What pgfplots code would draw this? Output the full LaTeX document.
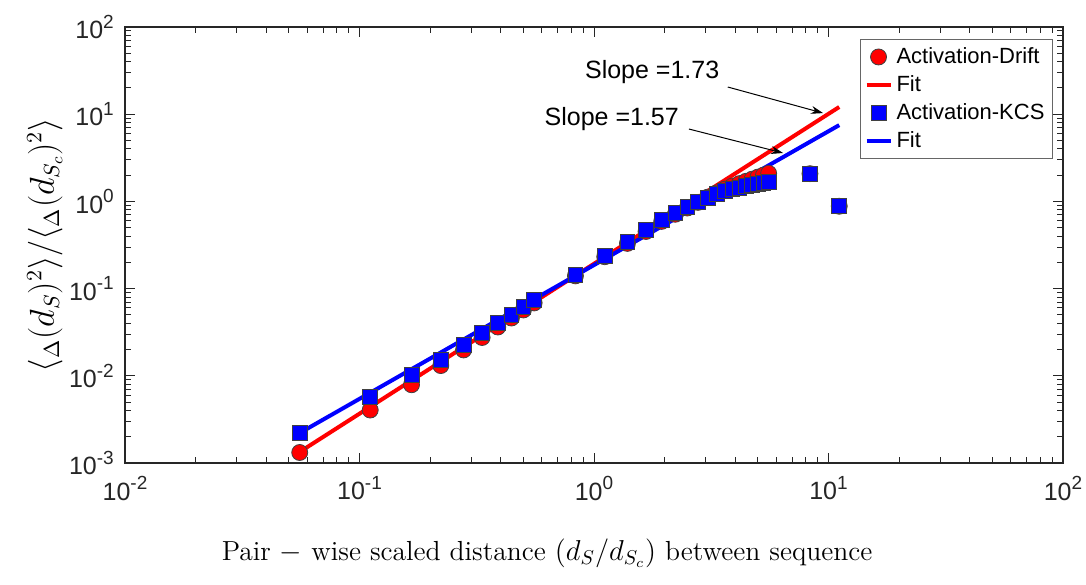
\documentclass[border=0pt]{standalone}
\usepackage{pgfplots}
\pgfplotsset{compat=1.18}
\usepackage{fontspec}
\usetikzlibrary{arrows.meta}
\newfontfamily\arial{Liberation Sans}
\definecolor{axgray}{rgb}{0.15,0.15,0.15}
\begin{document}
\begin{tikzpicture}
\useasboundingbox (-62.5pt,-60.5pt) rectangle (480.5pt,231.5pt);
\begin{axis}[
  at={(0,0)}, anchor=south west,
  scale only axis, width=469pt, height=218pt,
  xmode=log, ymode=log,
  xmin=0.01, xmax=100, ymin=0.001, ymax=100,
  log number format basis/.code 2 args={#1\raisebox{0.42em}{\fontsize{9.5}{10}\selectfont\pgfmathprintnumber[assume math mode=true]{#2}}},
  tick align=inside, major tick length=5pt, minor tick length=3pt,
  axis line style={axgray}, tick style={axgray, line width=0.5pt},
  every axis/.append style={line width=0.6pt},
  ticklabel style={font=\arial\fontsize{12.5}{14}\selectfont, text=axgray},
  xticklabel style={yshift=-3pt},
  yticklabel style={xshift=-2pt},
  xlabel={Pair $-$ wise scaled distance $\left(d_S/d_{S_c}\right)$ between sequence},
  xlabel style={at={(axis description cs:0.45,-0.2225)}, anchor=base, font=\fontsize{13.8}{16}\selectfont},
  ylabel={$\langle{}_{\Delta}(d_S)^{2}\rangle/\langle{}_{\Delta}(d_{S_c})^{2}\rangle$},
  ylabel style={at={(axis description cs:-0.0853,0.5)}, anchor=center, font=\fontsize{16}{18}\selectfont},
  legend style={at={(0.9893,0.9725)}, anchor=north east, draw=black!60, line width=0.5pt,
    font=\arial\fontsize{11}{13}\selectfont, row sep=0.5pt, inner sep=2pt},
  legend cell align=left,
  legend image code/.code={\draw[mark repeat=2,mark phase=2,#1] plot coordinates {(0pt,0pt) (6pt,0pt) (12pt,0pt)};},
]
\addplot[only marks, mark=*, mark size=4pt, mark options={fill=red, draw=black!75, line width=0.4pt}] coordinates {
(0.0556,0.00132) (0.1111,0.00405) (0.1667,0.00790) (0.2222,0.0131) (0.2778,0.0198)
(0.3333,0.0275) (0.3889,0.0363) (0.4444,0.0460) (0.5,0.0569) (0.5556,0.0685)
(0.8333,0.140) (1.1111,0.232) (1.3889,0.330) (1.6667,0.452) (1.9444,0.590)
(2.2222,0.712) (2.5,0.840) (2.7778,0.975) (3.0556,1.12) (3.3333,1.25)
(3.6111,1.38) (3.8889,1.50) (4.1667,1.60) (4.4444,1.70) (4.7222,1.80)
(5.0,1.90) (5.2778,2.00) (5.5556,2.10) (8.3333,2.08) (11.111,0.88)
};
\addlegendentry{Activation-Drift}
\addplot[red, line width=2pt] coordinates {(0.0556,0.00134) (11.111,12.1)};
\addlegendentry{Fit}
\addplot[only marks, mark=square*, mark size=3.7pt, mark options={fill=blue, draw=black!75, line width=0.4pt}] coordinates {
(0.0556,0.00221) (0.1111,0.00571) (0.1667,0.0102) (0.2222,0.0152) (0.2778,0.0225)
(0.3333,0.0310) (0.3889,0.0403) (0.4444,0.0498) (0.5,0.0615) (0.5556,0.0740)
(0.8333,0.143) (1.1111,0.237) (1.3889,0.342) (1.6667,0.470) (1.9444,0.612)
(2.2222,0.736) (2.5,0.863) (2.7778,0.980) (3.0556,1.09) (3.3333,1.22)
(3.6111,1.32) (3.8889,1.39) (4.1667,1.43) (4.4444,1.50) (4.7222,1.54)
(5.0,1.58) (5.2778,1.62) (5.5556,1.66) (8.3333,2.06) (11.111,0.88)
};
\addlegendentry{Activation-KCS}
\addplot[blue, line width=2pt] coordinates {(0.0556,0.00221) (11.111,7.5)};
\addlegendentry{Fit}
\node[font=\arial\fontsize{12.5}{14}\selectfont] at (axis cs:1.77,30.5) {Slope =1.73};
\draw[-{Stealth[length=6pt,width=4pt]}, line width=0.5pt] (axis cs:3.72,20.5) -- (axis cs:9.48,10.3);
\node[font=\arial\fontsize{12.5}{14}\selectfont] at (axis cs:1.19,8.81) {Slope =1.57};
\draw[-{Stealth[length=6pt,width=4pt]}, line width=0.5pt] (axis cs:2.54,6.76) -- (axis cs:6.4,3.59);
\end{axis}
\end{tikzpicture}
\end{document}
